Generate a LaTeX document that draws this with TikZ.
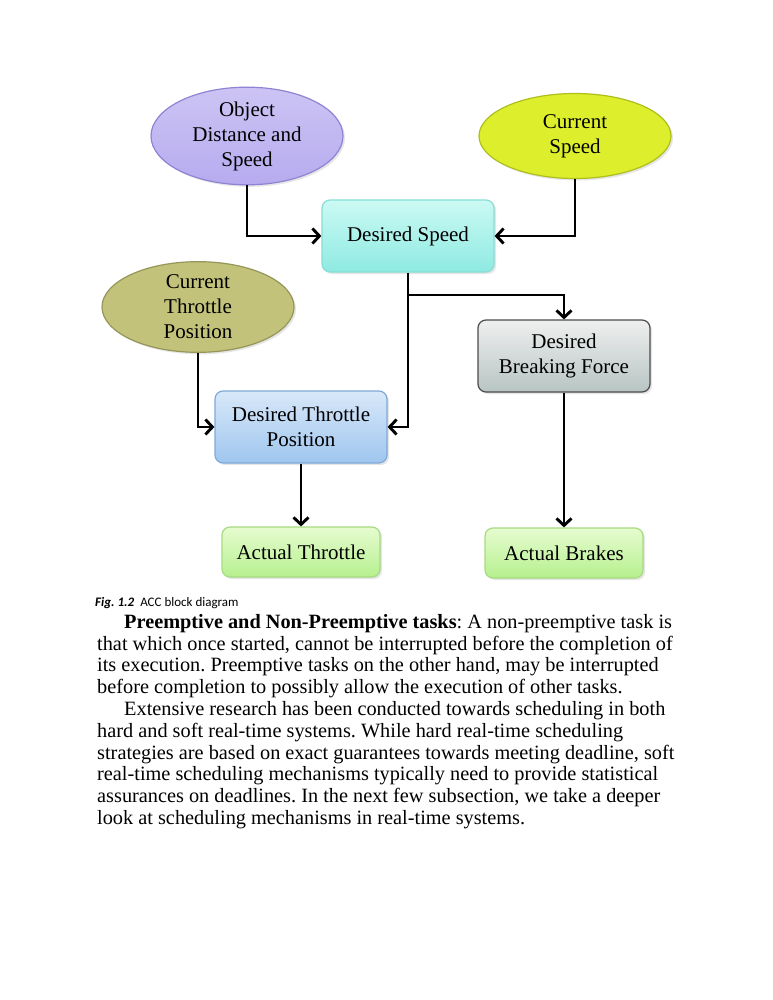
\documentclass[tikz,border=0pt]{standalone}
\usepackage{fontspec}
\setmainfont{Liberation Serif}
\newfontfamily\capfont{Carlito}
\usetikzlibrary{arrows.meta,shapes.geometric,shadows}

\definecolor{objfill}{HTML}{B7ABEF}
\definecolor{objline}{HTML}{8F84D4}
\definecolor{spdfill}{HTML}{DDEF2C}
\definecolor{spdline}{HTML}{AEBE1E}
\definecolor{thrfill}{HTML}{C2C27A}
\definecolor{thrline}{HTML}{96965A}
\definecolor{dstop}{HTML}{CBFAF4}
\definecolor{dsbot}{HTML}{8EEAE2}
\definecolor{dsline}{HTML}{88DDD6}
\definecolor{dttop}{HTML}{D8E8F9}
\definecolor{dtbot}{HTML}{9FC6EE}
\definecolor{dtline}{HTML}{7FA9DA}
\definecolor{bftop}{HTML}{EFEFEF}
\definecolor{bfbot}{HTML}{B7C5C3}
\definecolor{actop}{HTML}{E6FCD0}
\definecolor{acbot}{HTML}{B6F08E}
\definecolor{acline}{HTML}{A6DA80}

\begin{document}
\frenchspacing
\begin{tikzpicture}[x=1pt,y=-1pt,
    every node/.style={inner sep=0pt},
    oval/.style={ellipse, draw, line width=1.2pt, minimum width=192pt,
      minimum height=85pt, align=center, font=\fontsize{21}{25}\selectfont,
      drop shadow={opacity=0.2, shadow xshift=2pt, shadow yshift=-2pt}},
    block/.style={rectangle, rounded corners=8pt, draw, line width=1.2pt,
      minimum width=172pt, minimum height=72pt, align=center,
      font=\fontsize{21}{25}\selectfont,
      drop shadow={opacity=0.2, shadow xshift=2pt, shadow yshift=-2pt}},
    actual/.style={block, minimum width=158pt, minimum height=50pt,
      draw=acline, top color=actop, bottom color=acbot},
    link/.style={line width=2.9pt, -{Straight Barb[length=7pt,width=15pt]}}]
  \useasboundingbox (0,0) rectangle (772,1000);
  \fill[white] (0,0) rectangle (772,1000);

  \node[oval, draw=objline, top color=objfill!70!white, bottom color=objfill] (obj) at (247,136) {Object\\Distance and\\Speed};
  \node[oval, draw=spdline, fill=spdfill] (cs) at (575,136) {Current\\Speed};
  \node[oval, draw=thrline, fill=thrfill] (ctp) at (198,307) {Current\\Throttle\\Position};

  \node[block, draw=dsline, top color=dstop, bottom color=dsbot] (ds) at (408,236) {Desired Speed};
  \node[block, draw=dtline, top color=dttop, bottom color=dtbot] (dtp) at (301,427) {Desired Throttle\\Position};
  \node[block, draw=black!70, top color=bftop, bottom color=bfbot] (dbf) at (564,356) {Desired\\Breaking Force};
  \node[actual] (at) at (301,552) {Actual Throttle};
  \node[actual] (ab) at (564,553) {Actual Brakes};

  \coordinate (split) at (ds.south |- 0,295);
  \draw[link] (obj.south) |- (ds.west);
  \draw[link] (cs.south) |- (ds.east);
  \draw[link] (ctp.south) |- (dtp.west);
  \draw[link] (ds.south) |- (dtp.east);
  \draw[link] (split) -| (dbf.north);
  \draw[link] (dtp) -- (at);
  \draw[link] (dbf) -- (ab);

  \node[anchor=base west, font=\capfont\fontsize{13}{15}\selectfont] (cap) at (95,606)
    {\textbf{\textit{Fig. 1.2}}\hspace{6pt}ACC block diagram};
  \node[anchor=north west, align=left, font=\fontsize{20.3}{21.8}\selectfont] (body) at (97,614)
    {\hspace*{27pt}\textbf{Preemptive and Non-Preemptive tasks}: A non-preemptive task is\\
     that which once started, cannot be interrupted before the completion of\\
     its execution. Preemptive tasks on the other hand, may be interrupted\\
     before completion to possibly allow the execution of other tasks.\\
     \hspace*{27pt}Extensive research has been conducted towards scheduling in both\\
     hard and soft real-time systems. While hard real-time scheduling\\
     strategies are based on exact guarantees towards meeting deadline, soft\\
     real-time scheduling mechanisms typically need to provide statistical\\
     assurances on deadlines. In the next few subsection, we take a deeper\\
     look at scheduling mechanisms in real-time systems.};
\end{tikzpicture}
\end{document}
